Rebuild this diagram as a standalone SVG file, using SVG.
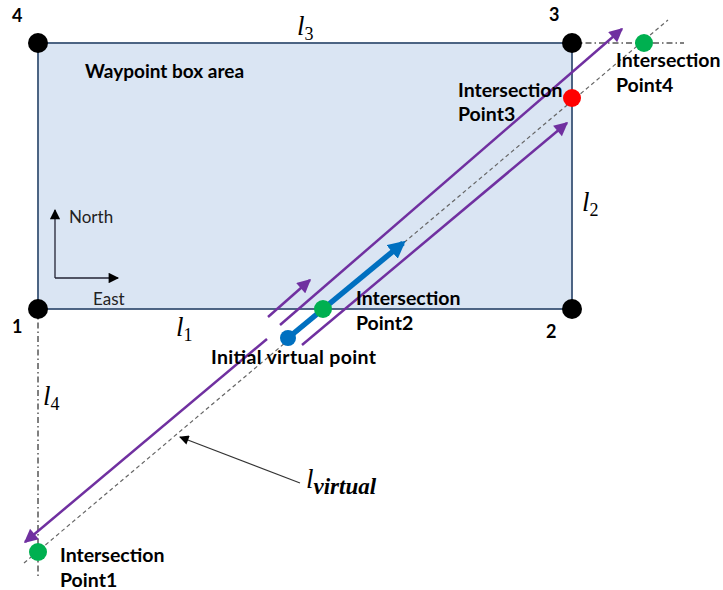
<svg xmlns="http://www.w3.org/2000/svg" width="723" height="590" viewBox="0 0 723 590">
<defs>
<marker id="ap" viewBox="0 0 10 10" refX="9" refY="5" markerWidth="6" markerHeight="5.5" markerUnits="strokeWidth" orient="auto"><path d="M0,0 L10,5 L0,10 z" fill="#7030a0"/></marker>
<marker id="ab" viewBox="0 0 10 10" refX="8" refY="5" markerWidth="3.2" markerHeight="3.2" markerUnits="strokeWidth" orient="auto"><path d="M0,0 L10,5 L0,10 z" fill="#0070c0"/></marker>
<marker id="ak" viewBox="0 0 10 10" refX="9" refY="5" markerWidth="10" markerHeight="8" markerUnits="strokeWidth" orient="auto"><path d="M0,0 L10,5 L0,10 z" fill="#000"/></marker>
</defs>
<style>
.lbl{font-family:Lato,"Liberation Sans",sans-serif;font-weight:bold;font-size:19.5px;fill:#000}
.num{font-family:Lato,"Liberation Sans",sans-serif;font-weight:bold;font-size:18px;fill:#000}
.sm{font-family:Lato,"Liberation Sans",sans-serif;font-size:17px;fill:#222}
.math{font-family:"Liberation Serif",serif;font-style:italic;font-size:27px;fill:#000}
.sub{font-family:"Liberation Serif",serif;font-size:18px;font-style:normal;fill:#000}
.vsub{font-family:"Liberation Serif",serif;font-size:23px;font-style:italic;font-weight:bold;fill:#000}
.purple{stroke:#7030a0;stroke-width:2.5;fill:none;marker-end:url(#ap)}
.dd{stroke:#000;stroke-width:1;stroke-dasharray:6,3,1.5,3;fill:none}
</style>
<g id="box">
<rect x="38" y="43" width="534" height="266" fill="#dae5f3" stroke="#3b5577" stroke-width="1.8"/>
<text class="lbl" x="85" y="78" style="font-size:19px">Waypoint box area</text>
</g>
<g id="connectors">
<line class="dd" x1="572" y1="43" x2="684" y2="43"/>
<line class="dd" x1="38" y1="309" x2="38" y2="578"/>
<line x1="24" y1="563" x2="668" y2="20" stroke="#666" stroke-width="1.2" stroke-dasharray="4,3"/>
<line class="purple" x1="280" y1="325" x2="622" y2="29"/>
<line class="purple" x1="267" y1="339" x2="25" y2="542"/>
<line class="purple" x1="302" y1="345" x2="567" y2="123"/>
<line class="purple" x1="268" y1="317" x2="310" y2="280"/>
<line x1="288" y1="338" x2="403" y2="243" stroke="#0070c0" stroke-width="5.5" marker-end="url(#ab)"/>
<line x1="55" y1="278" x2="55" y2="210" stroke="#223" stroke-width="1.3" marker-end="url(#ak)"/>
<line x1="55" y1="278" x2="118" y2="278" stroke="#223" stroke-width="1.3" marker-end="url(#ak)"/>
<line x1="300" y1="483" x2="180" y2="437" stroke="#333" stroke-width="1.2" marker-end="url(#ak)"/>
</g>
<g id="corner1"><circle cx="38" cy="309" r="10" fill="#000"/><text class="num" x="12" y="333">1</text></g>
<g id="corner2"><circle cx="572" cy="309" r="10" fill="#000"/><text class="num" x="546" y="338">2</text></g>
<g id="corner3"><circle cx="572" cy="43" r="10" fill="#000"/><text class="num" x="549" y="21">3</text></g>
<g id="corner4"><circle cx="38" cy="43" r="10" fill="#000"/><text class="num" x="12" y="22">4</text></g>
<g id="ip1"><circle cx="38" cy="552" r="9" fill="#00b050"/><text class="lbl" x="60" y="562">Intersection</text><text class="lbl" x="60" y="587">Point1</text></g>
<g id="ip2"><circle cx="323" cy="309" r="9" fill="#00b050"/><text class="lbl" x="356" y="305">Intersection</text><text class="lbl" x="356" y="330">Point2</text></g>
<g id="ip3"><circle cx="572" cy="98" r="9" fill="#ff0000"/><text class="lbl" x="458" y="97">Intersection</text><text class="lbl" x="458" y="121">Point3</text></g>
<g id="ip4"><circle cx="644" cy="43" r="9" fill="#00b050"/><text class="lbl" x="616" y="67">Intersection</text><text class="lbl" x="616" y="92">Point4</text></g>
<g id="initial"><circle cx="288" cy="338" r="8" fill="#0070c0"/><text class="lbl" x="211" y="364" textLength="165">Initial virtual point</text></g>
<g id="axes"><text class="sm" x="69" y="223">North</text><text class="sm" x="93" y="305">East</text></g>
<g id="lines-labels">
<text class="math" x="297" y="35">l<tspan class="sub" dy="5">3</tspan></text>
<text class="math" x="582" y="211">l<tspan class="sub" dy="5">2</tspan></text>
<text class="math" x="176" y="336">l<tspan class="sub" dy="5">1</tspan></text>
<text class="math" x="43" y="405">l<tspan class="sub" dy="5">4</tspan></text>
<text class="math" x="306" y="488">l<tspan class="vsub" dy="6">virtual</tspan></text>
</g>
</svg>
